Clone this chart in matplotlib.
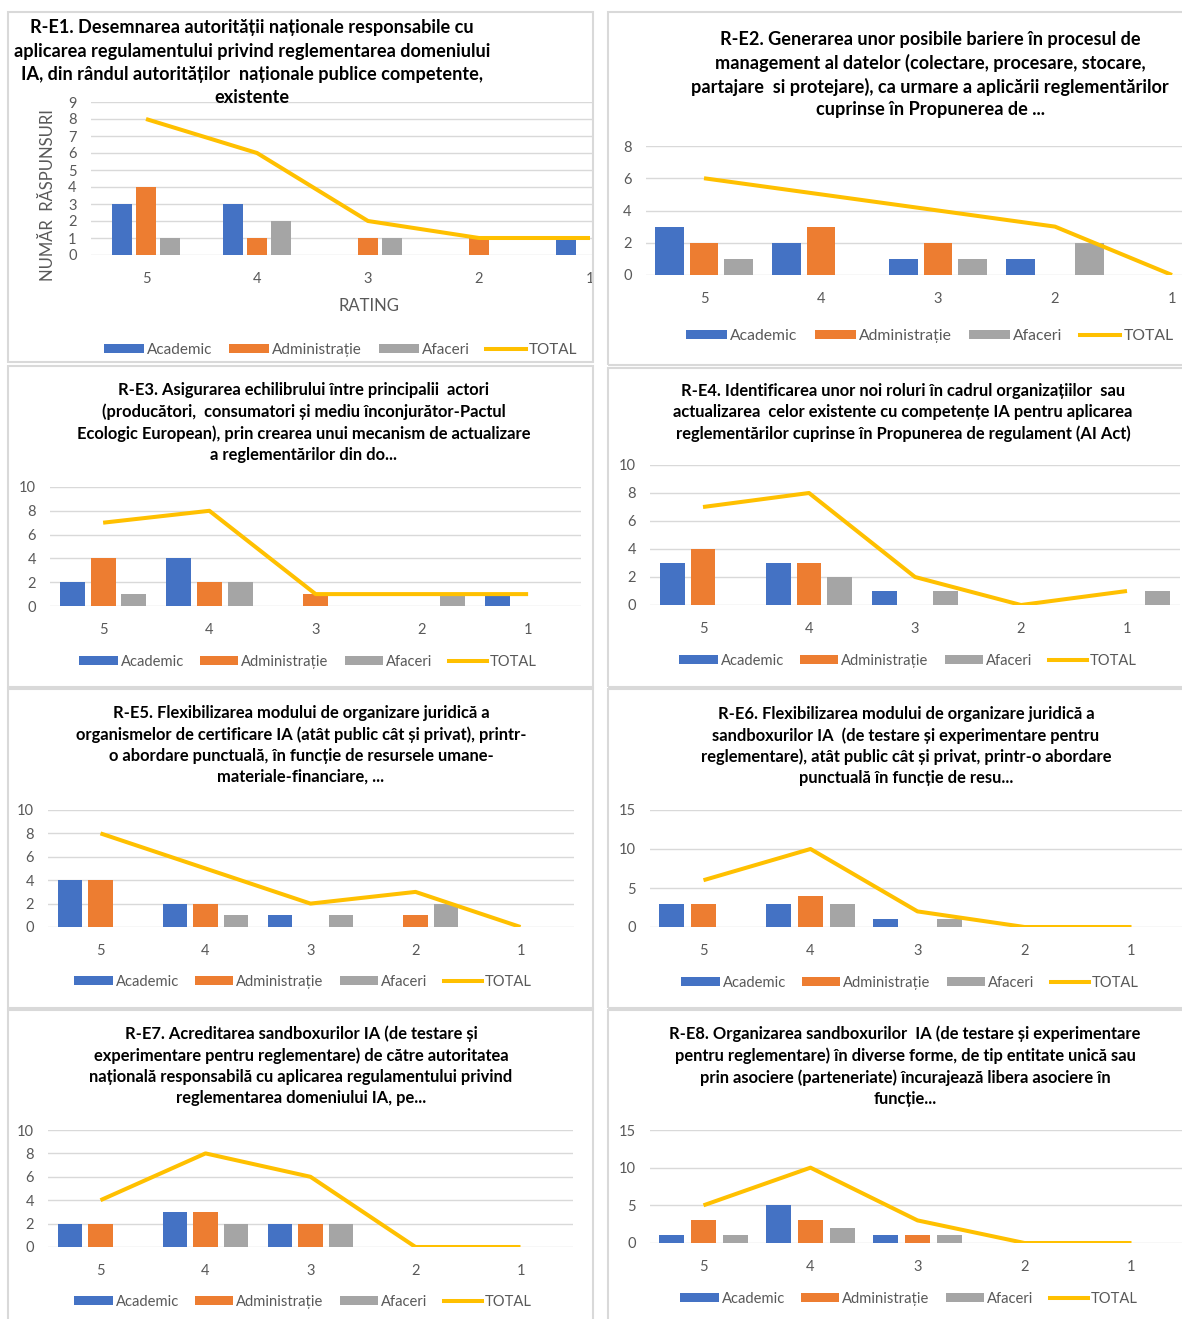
import matplotlib
matplotlib.use("Agg")
import matplotlib.pyplot as plt
from matplotlib.patches import Rectangle, Patch
from matplotlib.lines import Line2D

W, H = 1182, 1319

ratings = ['5', '4', '3', '2', '1']

# one row per question R-E1 ... R-E8, values follow ratings 5..1
academic = [
    [3, 3, 0, 0, 1],
    [3, 2, 1, 1, 0],
    [2, 4, 0, 0, 1],
    [3, 3, 1, 0, 0],
    [4, 2, 1, 0, 0],
    [3, 3, 1, 0, 0],
    [2, 3, 2, 0, 0],
    [1, 5, 1, 0, 0],
]
administratie = [
    [4, 1, 1, 1, 0],
    [2, 3, 2, 0, 0],
    [4, 2, 1, 0, 0],
    [4, 3, 0, 0, 0],
    [4, 2, 0, 1, 0],
    [3, 4, 0, 0, 0],
    [2, 3, 2, 0, 0],
    [3, 3, 1, 0, 0],
]
afaceri = [
    [1, 2, 1, 0, 0],
    [1, 0, 1, 2, 0],
    [1, 2, 0, 1, 0],
    [0, 2, 1, 0, 1],
    [0, 1, 1, 2, 0],
    [0, 3, 1, 0, 0],
    [0, 2, 2, 0, 0],
    [1, 2, 1, 0, 0],
]
total = [
    [8, 6, 2, 1, 1],
    [6, 5, 4, 3, 0],
    [7, 8, 1, 1, 1],
    [7, 8, 2, 0, 1],
    [8, 5, 2, 3, 0],
    [6, 10, 2, 0, 0],
    [4, 8, 6, 0, 0],
    [5, 10, 3, 0, 0],
]

titles = [
    ["R-E1. Desemnarea autorității naționale responsabile cu",
     "aplicarea regulamentului privind reglementarea domeniului",
     "IA, din rândul autorităților  naționale publice competente,",
     "existente"],
    ["R-E2. Generarea unor posibile bariere în procesul de",
     "management al datelor (colectare, procesare, stocare,",
     "partajare  si protejare), ca urmare a aplicării reglementărilor",
     "cuprinse în Propunerea de ..."],
    ["R-E3. Asigurarea echilibrului între principalii  actori",
     "(producători,  consumatori și mediu înconjurător-Pactul",
     "Ecologic European), prin crearea unui mecanism de actualizare",
     "a reglementărilor din do..."],
    ["R-E4. Identificarea unor noi roluri în cadrul organizațiilor  sau",
     "actualizarea  celor existente cu competențe IA pentru aplicarea",
     "reglementărilor cuprinse în Propunerea de regulament (AI Act)"],
    ["R-E5. Flexibilizarea modului de organizare juridică a",
     "organismelor de certificare IA (atât public cât și privat), printr-",
     "o abordare punctuală, în funcție de resursele umane-",
     "materiale-financiare, ..."],
    ["R-E6. Flexibilizarea modului de organizare juridică a",
     "sandboxurilor IA  (de testare și experimentare pentru",
     "reglementare), atât public cât și privat, printr-o abordare",
     "punctuală în funcție de resu..."],
    ["R-E7. Acreditarea sandboxurilor IA (de testare și",
     "experimentare pentru reglementare) de către autoritatea",
     "națională responsabilă cu aplicarea regulamentului privind",
     "reglementarea domeniului IA, pe..."],
    ["R-E8. Organizarea sandboxurilor  IA (de testare și experimentare",
     "pentru reglementare) în diverse forme, de tip entitate unică sau",
     "prin asociere (parteneriate) încurajează libera asociere în",
     "funcție..."],
]

y_max = [9, 8, 10, 10, 10, 15, 10, 15]
y_step = [1, 2, 2, 2, 2, 5, 2, 5]

series_names = ['Academic', 'Administrație', 'Afaceri', 'TOTAL']
colors = ['#4472C4', '#ED7D31', '#A5A5A5', '#FFC000']
grid_c = '#D9D9D9'
text_c = '#595959'

plt.rcParams['font.family'] = ['Lato', 'DejaVu Sans']

# layout in pixels: panel box, plot area (left, top, right, bottom), category spacing,
# title centre x / first line y / line step / size, legend centre + size, bar width/offset
layout = [
    dict(box=(8, 12, 593, 362), plot=(90.5, 102, 593, 255), cat=111,
         tx=252, ty=28, tstep=23.3, tsize=13.1, leg=(341, 350), lsize=11.0,
         bw=0.18, off=0.22),
    dict(box=(608, 12, 1186, 365), plot=(645.5, 146, 1182, 275), cat=117,
         tx=930, ty=40, tstep=23.3, tsize=13.1, leg=(930, 336), lsize=11.3,
         bw=0.24, off=0.295),
    dict(box=(8, 366, 593, 687), plot=(50, 487, 581, 606), cat=106.25,
         tx=304, ty=390, tstep=21.7, tsize=11.9, leg=(308, 662), lsize=10.6,
         bw=0.235, off=0.29),
    dict(box=(608, 368, 1186, 687), plot=(650, 465, 1180, 605), cat=106,
         tx=903, ty=391, tstep=21.5, tsize=11.9, leg=(908, 661), lsize=10.6,
         bw=0.235, off=0.29),
    dict(box=(8, 689, 593, 1008), plot=(48, 810, 574, 927), cat=105,
         tx=301, ty=713, tstep=21.3, tsize=11.9, leg=(303, 982), lsize=10.6,
         bw=0.23, off=0.29),
    dict(box=(608, 689, 1186, 1008), plot=(650, 810, 1185, 927), cat=107,
         tx=906, ty=714, tstep=21.3, tsize=11.9, leg=(910, 983), lsize=10.6,
         bw=0.23, off=0.3),
    dict(box=(8, 1010, 593, 1325), plot=(48, 1130, 573, 1247), cat=105,
         tx=301, ty=1034, tstep=21.3, tsize=11.9, leg=(303, 1302), lsize=10.6,
         bw=0.23, off=0.29),
    dict(box=(608, 1010, 1186, 1325), plot=(650, 1130, 1185, 1243), cat=107,
         tx=905, ty=1034, tstep=21.7, tsize=11.9, leg=(909, 1299), lsize=10.6,
         bw=0.23, off=0.3),
]


def fx(x):
    return x / W


def fy(y):
    return 1 - y / H


fig = plt.figure(figsize=(W / 100, H / 100), dpi=100)

for i, lay in enumerate(layout):
    # panel frame
    x0, y0, x1, y1 = lay['box']
    fig.patches.append(Rectangle((fx(x0), fy(y1)), fx(x1 - x0), (y1 - y0) / H,
                                 transform=fig.transFigure, fill=False,
                                 edgecolor=grid_c, lw=1.5, zorder=0))

    # title lines
    for k, line in enumerate(titles[i]):
        fig.text(fx(lay['tx']), fy(lay['ty'] + k * lay['tstep']), line,
                 ha='center', va='center', fontsize=lay['tsize'],
                 fontweight='bold', color='#000000')

    # plot area
    l, t, r, b = lay['plot']
    ax = fig.add_axes([fx(l), fy(b), fx(r - l), (b - t) / H])
    ax.set_facecolor('none')
    xs = list(range(len(ratings)))
    right_lim = -0.5 + (r - l) / lay['cat']
    ax.set_xlim(-0.5, right_lim)
    ax.set_ylim(0, y_max[i])

    bw, off = lay['bw'], lay['off']
    for s, vals in enumerate([academic[i], administratie[i], afaceri[i]]):
        ax.bar([x + (s - 1) * off for x in xs], vals, width=bw,
               color=colors[s], zorder=2)
    ax.plot(xs, total[i], color=colors[3], lw=2.9, zorder=3,
            solid_capstyle='butt', solid_joinstyle='round')

    ax.set_yticks(range(0, y_max[i] + 1, y_step[i]))
    ax.set_xticks(xs)
    ax.set_xticklabels(ratings)
    ax.grid(axis='y', color=grid_c, lw=1, zorder=0)
    ax.set_axisbelow(True)
    for side in ['top', 'right', 'left', 'bottom']:
        ax.spines[side].set_visible(False)
    ax.tick_params(axis='both', length=0, colors=text_c, labelsize=10.5)
    ax.tick_params(axis='y', pad=10)
    ax.tick_params(axis='x', pad=12)

    if i == 0:
        ax.set_ylabel('NUMĂR  RĂSPUNSURI', fontsize=12, color=text_c)
        ax.set_xlabel('RATING', fontsize=12, color=text_c)
        ax.xaxis.set_label_coords((369 - l) / (r - l), -(306 - b) / (b - t))
        ax.yaxis.set_label_coords(-(l - 48) / (r - l), (b - 195) / (b - t))
        ax.xaxis.label.set_va('center')
        ax.yaxis.label.set_va('center')

    handles = [Patch(facecolor=colors[0]), Patch(facecolor=colors[1]),
               Patch(facecolor=colors[2]), Line2D([0], [0], color=colors[3], lw=2.9)]
    fig.legend(handles, series_names, loc='center', ncol=4,
               bbox_to_anchor=(fx(lay['leg'][0]), fy(lay['leg'][1])),
               frameon=False, fontsize=lay['lsize'], labelcolor=text_c,
               handlelength=2.6, handleheight=0.55, handletextpad=0.2,
               columnspacing=1.1)

fig.savefig('out.png', dpi=100, facecolor='white')
